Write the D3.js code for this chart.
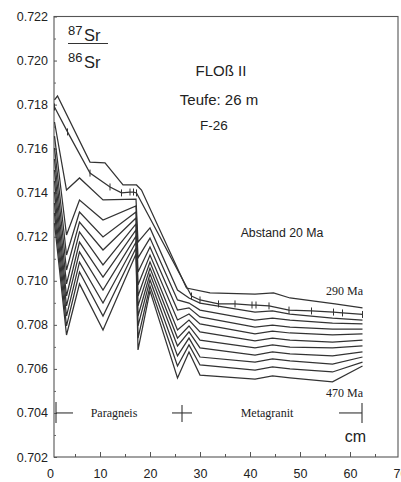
<!DOCTYPE html>
<html><head><meta charset="utf-8">
<script src="https://cdn.jsdelivr.net/npm/d3@7/dist/d3.min.js"></script>
<style>
body{margin:0;background:#fff}
svg{display:block}
text{fill:#222}
</style>
</head><body>
<svg id="chart" width="401" height="482"></svg>
<script>
// ---------- data ----------
const xTickLabels = [0, 10, 20, 30, 40, 50, 60, 70];
const xMinorTicks = [5, 10, 15, 20, 25, 30, 35, 40, 45, 50, 55, 60, 65];
const yTickLabels = [0.702, 0.704, 0.706, 0.708, 0.710, 0.712, 0.714, 0.716, 0.718, 0.720, 0.722];
const yMinorTicks = [0.703, 0.705, 0.707, 0.709, 0.711, 0.713, 0.715, 0.717, 0.719, 0.721];

// uppermost curve
const topX = [0.9, 1.5, 8, 11, 14.6, 17.3, 18.3, 27.3, 32, 41, 44.7, 48, 57, 62.5];
const topV = [0.71821, 0.71839, 0.71539, 0.71535, 0.71435, 0.71435, 0.71412, 0.70967, 0.70945, 0.70940, 0.70945, 0.70922, 0.70895, 0.70877];

// curve with sample marks
const sampleX = [0.9, 3.5, 8, 12, 14.3, 16, 16.7, 17.3, 28.3, 30, 33.7, 37, 40.4, 41.2, 43.8, 47.8, 52.3, 56.7, 58.5, 62.5];
const sampleV = [0.71789, 0.71676, 0.71489, 0.71426, 0.71399, 0.71403, 0.71403, 0.71399, 0.70931, 0.70913, 0.70895, 0.70895, 0.70890, 0.70890, 0.70886, 0.70867, 0.70863, 0.70858, 0.70854, 0.70847];

// remaining curves (20 Ma steps, down to 470 Ma)
const curveX = [0.9, 3.3, 5.9, 10.6, 17.2, 17.6, 20, 25.5, 27.8, 30, 41, 44.5, 48, 56.5, 62.5];
const curve3  = [0.71721, 0.71412, 0.71467, 0.71367, 0.71371, 0.71176, 0.71240, 0.70958, 0.70922, 0.70899, 0.70858, 0.70863, 0.70849, 0.70831, 0.70822];
const curve4  = [0.71657, 0.71208, 0.71367, 0.71276, 0.71340, 0.71104, 0.71194, 0.70913, 0.70899, 0.70867, 0.70822, 0.70831, 0.70822, 0.70808, 0.70804];
const curve5  = [0.71603, 0.71117, 0.71312, 0.71199, 0.71312, 0.71040, 0.71153, 0.70867, 0.70877, 0.70836, 0.70790, 0.70799, 0.70790, 0.70781, 0.70781];
const curve6  = [0.71553, 0.71049, 0.71267, 0.71140, 0.71285, 0.70981, 0.71117, 0.70822, 0.70849, 0.70804, 0.70759, 0.70772, 0.70763, 0.70754, 0.70759];
const curve7  = [0.71503, 0.70986, 0.71222, 0.71072, 0.71258, 0.70931, 0.71085, 0.70777, 0.70822, 0.70768, 0.70727, 0.70740, 0.70731, 0.70722, 0.70731];
const curve8  = [0.71453, 0.70931, 0.71176, 0.71017, 0.71231, 0.70886, 0.71058, 0.70740, 0.70795, 0.70731, 0.70695, 0.70709, 0.70699, 0.70695, 0.70704];
const curve9  = [0.71403, 0.70886, 0.71131, 0.70958, 0.71203, 0.70840, 0.71031, 0.70704, 0.70768, 0.70695, 0.70663, 0.70677, 0.70668, 0.70659, 0.70677];
const curve10 = [0.71353, 0.70840, 0.71085, 0.70899, 0.71176, 0.70795, 0.71004, 0.70659, 0.70740, 0.70654, 0.70631, 0.70645, 0.70636, 0.70622, 0.70654];
const curve11 = [0.71308, 0.70795, 0.71040, 0.70840, 0.71149, 0.70740, 0.70976, 0.70613, 0.70709, 0.70618, 0.70595, 0.70609, 0.70600, 0.70586, 0.70631];
const curve12 = [0.71262, 0.70754, 0.70986, 0.70777, 0.71122, 0.70686, 0.70954, 0.70559, 0.70677, 0.70572, 0.70554, 0.70568, 0.70559, 0.70541, 0.70613];

const zoneBounds = [1.2, 26.4, 62.4];
const zoneNames = ["Paragneis", "Metagranit"];
const zoneLevel = 0.704;

// ---------- drawing ----------
const svg = d3.select("#chart");
const W = 401, H = 482;
svg.append("rect").attr("width", W).attr("height", H).attr("fill", "#fff");

const x = d3.scaleLinear().domain([0, 70]).range([50, 400]);
const y = d3.scaleLinear().domain([0.702, 0.722]).range([457, 16.5]);

const fLeft = x(0.8), fRight = x(69.6), fTop = y(0.722), fBottom = y(0.702);
const ink = "#333";

// frame
svg.append("rect")
  .attr("x", fLeft).attr("y", fTop)
  .attr("width", fRight - fLeft).attr("height", fBottom - fTop)
  .attr("fill", "none").attr("stroke", "#555").attr("stroke-width", 1.1);

// y axis labels + ticks
const yAxis = d3.axisLeft(y).tickValues(yTickLabels).tickFormat(d3.format(".3f"))
  .tickSizeInner(-3).tickSizeOuter(0).tickPadding(6);
const gy = svg.append("g").attr("transform", `translate(${fLeft},0)`).call(yAxis);
gy.select(".domain").remove();
gy.selectAll("line").attr("stroke", "#555");
gy.selectAll("text").attr("font-family", "'Liberation Sans', Arial, sans-serif")
  .attr("font-size", 12.5).attr("fill", "#222");

const yMinor = d3.axisLeft(y).tickValues(yMinorTicks).tickFormat("").tickSizeInner(-2).tickSizeOuter(0);
const gym = svg.append("g").attr("transform", `translate(${fLeft},0)`).call(yMinor);
gym.select(".domain").remove();
gym.selectAll("line").attr("stroke", "#666");

// x axis labels
const xAxis = d3.axisBottom(x).tickValues(xTickLabels).tickFormat(d3.format("d"))
  .tickSizeInner(0).tickSizeOuter(0).tickPadding(12);
const gx = svg.append("g").attr("transform", `translate(0,${fBottom})`).call(xAxis);
gx.select(".domain").remove();
gx.selectAll("line").remove();
gx.selectAll("text").attr("font-family", "'Liberation Sans', Arial, sans-serif")
  .attr("font-size", 12.5).attr("fill", "#222");

// x ticks (inward)
const xTickAxis = d3.axisBottom(x).tickValues(xMinorTicks).tickFormat("").tickSizeOuter(0)
  .tickSizeInner(-3);
const gxt = svg.append("g").attr("transform", `translate(0,${fBottom})`).call(xTickAxis);
gxt.select(".domain").remove();
gxt.selectAll(".tick line").attr("stroke", "#555")
  .attr("y2", d => (d % 10 === 0 ? -5 : -3));

// curves
const line = d3.line().x(d => x(d[0])).y(d => y(d[1]));
const modelCurves = [curve3, curve4, curve5, curve6, curve7, curve8, curve9, curve10, curve11, curve12];
const allCurves = [
  d3.zip(topX, topV),
  d3.zip(sampleX, sampleV),
  ...modelCurves.map(c => d3.zip(curveX, c))
];
svg.append("g").selectAll("path").data(allCurves).join("path")
  .attr("d", line).attr("fill", "none").attr("stroke", ink)
  .attr("stroke-width", 1.25).attr("stroke-linejoin", "miter");

// sample marks
svg.append("g").selectAll("line").data(d3.zip(sampleX, sampleV)).join("line")
  .attr("x1", d => x(d[0])).attr("x2", d => x(d[0]))
  .attr("y1", d => y(d[1]) - 3.5).attr("y2", d => y(d[1]) + 3.5)
  .attr("stroke", ink).attr("stroke-width", 1);

// age labels
const serif = "'Liberation Serif', 'Times New Roman', serif";
const sans = "'Liberation Sans', Arial, sans-serif";
svg.append("text").attr("x", x(62.6)).attr("y", y(0.70877) - 13)
  .attr("text-anchor", "end").attr("font-family", serif).attr("font-size", 12).text("290 Ma");
svg.append("text").attr("x", x(62.6)).attr("y", y(0.70541) + 15)
  .attr("text-anchor", "end").attr("font-family", serif).attr("font-size", 12).text("470 Ma");

// annotations
svg.append("text").attr("x", 282).attr("y", 237).attr("text-anchor", "middle")
  .attr("font-family", sans).attr("font-size", 12.3).text("Abstand 20 Ma");
svg.append("text").attr("x", 221).attr("y", 76).attr("text-anchor", "middle")
  .attr("font-family", sans).attr("font-size", 15).text("FLOß II");
svg.append("text").attr("x", 219).attr("y", 105).attr("text-anchor", "middle")
  .attr("font-family", sans).attr("font-size", 15).text("Teufe: 26 m");
svg.append("text").attr("x", 214).attr("y", 130).attr("text-anchor", "middle")
  .attr("font-family", sans).attr("font-size", 13.5).text("F-26");

// isotope ratio label
const frac = svg.append("g").attr("font-family", sans);
frac.append("text").attr("x", 68).attr("y", 35).attr("font-size", 13).text("87");
frac.append("text").attr("x", 84).attr("y", 41).attr("font-size", 16.5).text("Sr");
frac.append("line").attr("x1", 68).attr("x2", 108).attr("y1", 43.5).attr("y2", 43.5)
  .attr("stroke", ink).attr("stroke-width", 1.2);
frac.append("text").attr("x", 68).attr("y", 62).attr("font-size", 13).text("86");
frac.append("text").attr("x", 84).attr("y", 68).attr("font-size", 16.5).text("Sr");

// zones
const zy = y(zoneLevel);
const zg = svg.append("g").attr("stroke", ink).attr("stroke-width", 1.1);
const zl = x(zoneBounds[0]), zm = x(zoneBounds[1]), zr = x(zoneBounds[2]);
zg.append("line").attr("x1", zl).attr("x2", zl).attr("y1", zy - 11).attr("y2", zy + 10);
zg.append("line").attr("x1", zl).attr("x2", zl + 17).attr("y1", zy).attr("y2", zy);
zg.append("line").attr("x1", zm - 10).attr("x2", zm + 10).attr("y1", zy).attr("y2", zy);
zg.append("line").attr("x1", zm).attr("x2", zm).attr("y1", zy - 8).attr("y2", zy + 9);
zg.append("line").attr("x1", zr - 23).attr("x2", zr).attr("y1", zy).attr("y2", zy);
zg.append("line").attr("x1", zr).attr("x2", zr).attr("y1", zy - 10).attr("y2", zy + 10);
svg.append("text").attr("x", (zl + zm) / 2 - 5).attr("y", zy + 4).attr("text-anchor", "middle")
  .attr("font-family", serif).attr("font-size", 12).text(zoneNames[0]);
svg.append("text").attr("x", (zm + zr) / 2 - 5).attr("y", zy + 4).attr("text-anchor", "middle")
  .attr("font-family", serif).attr("font-size", 12).text(zoneNames[1]);
svg.append("text").attr("x", zr + 4).attr("y", zy + 29).attr("text-anchor", "end")
  .attr("font-family", sans).attr("font-size", 16).text("cm");
</script>
</body></html>
